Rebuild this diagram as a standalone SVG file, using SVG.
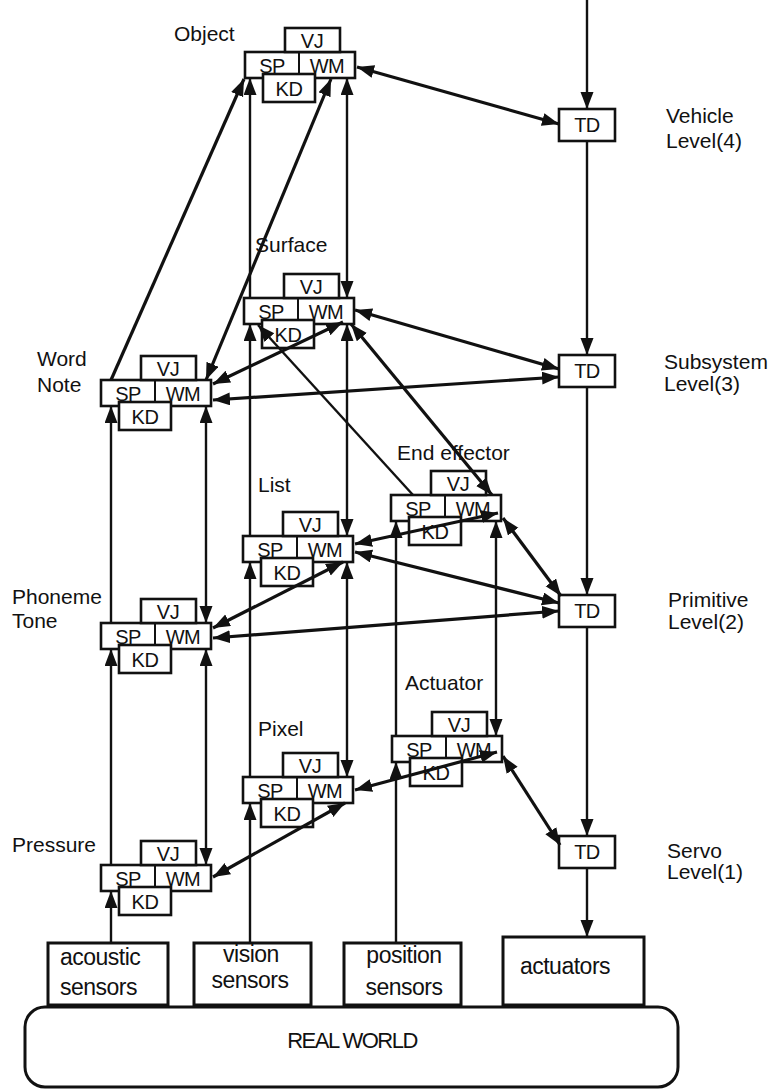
<svg xmlns="http://www.w3.org/2000/svg" width="771" height="1089" viewBox="0 0 771 1089">
  <style>
    .box { fill: #ffffff; stroke: #111111; stroke-width: 2.6; }
    .div { stroke: #111111; stroke-width: 2; }
    .nt { font-family: "Liberation Sans", Arial, sans-serif; font-size: 20px; fill: #111111; text-anchor: middle; letter-spacing: -0.5px; }
    .lbl { font-family: "Liberation Sans", Arial, sans-serif; font-size: 21px; fill: #111111; }
    .bt { font-family: "Liberation Sans", Arial, sans-serif; font-size: 23px; fill: #111111; letter-spacing: -0.5px; }
    .mid { text-anchor: middle; }
    .v { fill: none; stroke: #111111; stroke-width: 2.4; }
    .d { fill: none; stroke: #111111; stroke-width: 3.2; }
    .a1 { marker-end: url(#ah); }
    .a2 { marker-start: url(#ah); marker-end: url(#ah); }
  </style>
  <defs>
    <marker id="ah" markerUnits="userSpaceOnUse" markerWidth="19" markerHeight="14" refX="17" refY="6.5" orient="auto-start-reverse">
      <path d="M0,0 L17,6.5 L0,13 z" fill="#111111"/>
    </marker>
    <!-- one processing node: SP|WM row, VJ on top, KD below; origin = top-left of SP|WM row -->
    <g id="node">
      <rect class="box" x="0" y="0" width="110" height="26"/>
      <line class="div" x1="54" y1="0" x2="54" y2="22"/>
      <rect class="box" x="40" y="-24" width="55" height="24"/>
      <rect class="box" x="18" y="22" width="52" height="28"/>
      <text class="nt" x="27" y="21">SP</text>
      <text class="nt" x="82" y="21">WM</text>
      <text class="nt" x="67" y="-4">VJ</text>
      <text class="nt" x="44" y="44">KD</text>
    </g>
    <g id="td">
      <rect class="box" x="0" y="0" width="56" height="32"/>
      <text class="nt" x="28" y="23">TD</text>
    </g>
  </defs>

  <rect width="771" height="1089" fill="#ffffff"/>

  <!-- labels -->
  <g id="labels">
    <text class="lbl" x="174" y="41">Object</text>
    <text class="lbl" x="255" y="252">Surface</text>
    <text class="lbl" x="37" y="366">Word</text>
    <text class="lbl" x="37" y="392">Note</text>
    <text class="lbl" x="258" y="492">List</text>
    <text class="lbl" x="397" y="460">End effector</text>
    <text class="lbl" x="12" y="604">Phoneme</text>
    <text class="lbl" x="12" y="628">Tone</text>
    <text class="lbl" x="405" y="690">Actuator</text>
    <text class="lbl" x="258" y="736">Pixel</text>
    <text class="lbl" x="12" y="852">Pressure</text>
    <text class="lbl" x="666" y="123">Vehicle</text>
    <text class="lbl" x="666" y="148">Level(4)</text>
    <text class="lbl" x="664" y="369">Subsystem</text>
    <text class="lbl" x="664" y="391">Level(3)</text>
    <text class="lbl" x="668" y="607">Primitive</text>
    <text class="lbl" x="668" y="629">Level(2)</text>
    <text class="lbl" x="667" y="858">Servo</text>
    <text class="lbl" x="667" y="879">Level(1)</text>
  </g>

  <!-- processing nodes -->
  <g id="object"><use href="#node" x="245" y="52"/></g>
  <g id="surface"><use href="#node" x="244" y="298"/></g>
  <g id="word-note"><use href="#node" x="101" y="380"/></g>
  <g id="list"><use href="#node" x="243" y="536"/></g>
  <g id="end-effector"><use href="#node" x="391" y="495"/></g>
  <g id="phoneme-tone"><use href="#node" x="101" y="623"/></g>
  <g id="actuator"><use href="#node" x="392" y="736"/></g>
  <g id="pixel"><use href="#node" x="243" y="777"/></g>
  <g id="pressure"><use href="#node" x="101" y="865"/></g>

  <!-- task decomposition column -->
  <g id="td-vehicle"><use href="#td" x="559" y="109"/></g>
  <g id="td-subsystem"><use href="#td" x="559" y="355"/></g>
  <g id="td-primitive"><use href="#td" x="559" y="595"/></g>
  <g id="td-servo"><use href="#td" x="559" y="836"/></g>

  <!-- sensors / actuators / world -->
  <g id="acoustic-sensors">
    <rect class="box" x="48" y="943" width="120" height="62" style="stroke-width:3"/>
    <text class="bt" x="60" y="965">acoustic</text>
    <text class="bt" x="60" y="995">sensors</text>
  </g>
  <g id="vision-sensors">
    <rect class="box" x="194" y="943" width="117" height="62" style="stroke-width:3"/>
    <text class="bt mid" x="251" y="962">vision</text>
    <text class="bt mid" x="250" y="988">sensors</text>
  </g>
  <g id="position-sensors">
    <rect class="box" x="344" y="943" width="117" height="62" style="stroke-width:3"/>
    <text class="bt mid" x="404" y="963">position</text>
    <text class="bt mid" x="404" y="995">sensors</text>
  </g>
  <g id="actuators">
    <rect class="box" x="503" y="937" width="141" height="68" style="stroke-width:3"/>
    <text class="bt mid" x="565" y="974">actuators</text>
  </g>
  <g id="real-world">
    <rect class="box" x="25" y="1007" width="653" height="80" rx="20" style="stroke-width:3"/>
    <text class="lbl mid" x="352" y="1048" style="font-size:22px;letter-spacing:-1.5px">REAL WORLD</text>
  </g>

  <!-- connectors -->
  <g id="connectors">
    <!-- command path down the TD column -->
    <line class="v a1" x1="587" y1="0" x2="587" y2="109"/>
    <line class="v a1" x1="587" y1="141" x2="587" y2="355"/>
    <line class="v a1" x1="587" y1="387" x2="587" y2="595"/>
    <line class="v a1" x1="587" y1="627" x2="587" y2="836"/>
    <line class="v a1" x1="587" y1="868" x2="587" y2="937"/>

    <!-- acoustic chain -->
    <line class="v a1" x1="111" y1="943" x2="111" y2="891"/>
    <line class="v a1" x1="111" y1="865" x2="111" y2="649"/>
    <line class="v a1" x1="111" y1="623" x2="111" y2="406"/>
    <line class="d a1" x1="111" y1="380" x2="244" y2="79"/>

    <!-- vision chain -->
    <line class="v a1" x1="250" y1="943" x2="250" y2="803"/>
    <line class="v a1" x1="250" y1="777" x2="250" y2="562"/>
    <line class="v a1" x1="250" y1="536" x2="250" y2="324"/>
    <line class="v a1" x1="250" y1="298" x2="250" y2="78"/>

    <!-- position chain -->
    <line class="v a1" x1="396" y1="943" x2="396" y2="762"/>
    <line class="v a1" x1="396" y1="736" x2="396" y2="521"/>
    <line class="v a1" x1="413" y1="495" x2="258" y2="325"/>

    <!-- world model links -->
    <line class="v a2" x1="347" y1="78" x2="347" y2="298"/>
    <line class="v a2" x1="347" y1="324" x2="347" y2="536"/>
    <line class="v a2" x1="347" y1="562" x2="347" y2="777"/>
    <line class="v a2" x1="206" y1="406" x2="206" y2="623"/>
    <line class="v a2" x1="206" y1="649" x2="206" y2="865"/>
    <line class="v a2" x1="496" y1="521" x2="496" y2="736"/>

    <line class="d a2" x1="357" y1="67" x2="559" y2="124"/>
    <line class="d a2" x1="331" y1="79" x2="206" y2="380"/>
    <line class="d a2" x1="343" y1="322" x2="213" y2="384"/>
    <line class="d a2" x1="355" y1="310" x2="559" y2="369"/>
    <line class="d a2" x1="351" y1="324" x2="492" y2="495"/>
    <line class="d a2" x1="213" y1="400" x2="559" y2="377"/>
    <line class="d a2" x1="355" y1="544" x2="498" y2="513"/>
    <line class="d a2" x1="343" y1="562" x2="213" y2="628"/>
    <line class="d a2" x1="355" y1="552" x2="559" y2="603"/>
    <line class="d a2" x1="503" y1="518" x2="561" y2="596"/>
    <line class="d a2" x1="213" y1="638" x2="559" y2="611"/>
    <line class="d a2" x1="497" y1="752" x2="355" y2="790"/>
    <line class="d a2" x1="345" y1="803" x2="213" y2="877"/>
    <line class="d a2" x1="503" y1="756" x2="560" y2="845"/>
  </g>
</svg>
